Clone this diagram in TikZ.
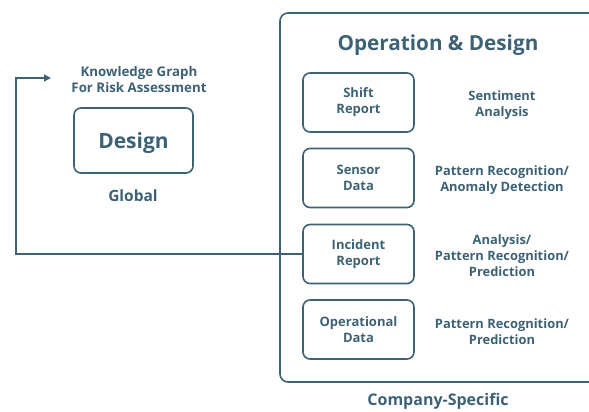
\documentclass[tikz,border=0pt]{standalone}
\usepackage{fontspec}
\setmainfont{Open Sans}
\usetikzlibrary{arrows.meta}
\definecolor{teal}{HTML}{3D6274}
\begin{document}
\begin{tikzpicture}[x=1pt,y=-1pt,
  every node/.style={text=teal, font=\bfseries, align=center},
  databox/.style={draw=teal, line width=1.6pt, rounded corners=7pt, minimum width=111pt, minimum height=59pt, font=\bfseries\fontsize{13}{16}\selectfont},
  tasklabel/.style={font=\bfseries\fontsize{12.9}{16}\selectfont},
  link/.style={draw=teal, line width=1.6pt}
]
\useasboundingbox (0,0) rectangle (589,412);
% company-specific container, running off the right edge
\draw[draw=teal, line width=1.6pt, rounded corners=8pt] (700,13) -- (280,13) -- (280,382) -- (700,382);
\node[font=\bfseries\fontsize{20.7}{24}\selectfont] (title) at (438,45) {Operation \& Design};
\node[font=\bfseries\fontsize{16}{19}\selectfont] (company) at (438,401) {Company-Specific};

% data sources
\node[databox] (shift) at (358.5,102.5) {Shift\\Report};
\node[databox] (sensor) at (358.5,178) {Sensor\\Data};
\node[databox] (incident) at (358.5,254) {Incident\\Report};
\node[databox] (operational) at (358.5,329.5) {Operational\\Data};

% analysis labels
\node[tasklabel] (sentiment) at (502,105) {Sentiment\\Analysis};
\node[tasklabel] (anomaly) at (502,180.5) {Pattern Recognition/\\Anomaly Detection};
\node[tasklabel] (analysis) at (502,256) {Analysis/\\Pattern Recognition/\\Prediction};
\node[tasklabel] (prediction) at (502,332) {Pattern Recognition/\\Prediction};

% global design
\node[databox, minimum width=119pt, minimum height=65pt, text height=15pt, text depth=0pt, font=\bfseries\fontsize{21}{24}\selectfont] (design) at (133.5,140.5) {Design};
\node[font=\bfseries\fontsize{13.3}{16}\selectfont] (kg) at (139,80) {Knowledge Graph\\For Risk Assessment};
\node[font=\bfseries\fontsize{15.5}{18}\selectfont] (global) at (133,196) {Global};

% feedback from incident reports to the knowledge graph
\coordinate (kgin) at (51,78);
\draw[link, -{Triangle[length=7pt,width=7pt]}] (incident.west) -- (16,254) -- (16,78) -- (kgin);
\end{tikzpicture}
\end{document}
